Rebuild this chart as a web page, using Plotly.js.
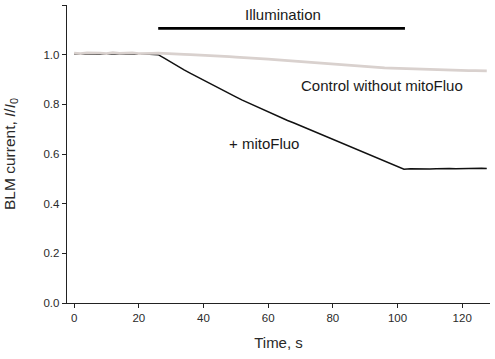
<!DOCTYPE html>
<html>
<head>
<meta charset="utf-8">
<script src="https://cdn.plot.ly/plotly-3.0.1.min.js"></script>
<style>html,body{margin:0;padding:0;background:#fff;}#chart{width:495px;height:359px;}</style>
</head>
<body>
<div id="chart"></div>
<script>
// Time axis (s)
var timeMito = [0,2,4,6,8,10,12,14,16,18,20,22,24,26,28,30,32,34,36,38,40,42,44,46,48,50,52,54,56,58,60,62,64,66,68,70,72,74,76,78,80,82,84,86,88,90,92,94,96,98,100,102,104,106,108,110,112,114,116,118,120,122,124,126,127.6];
// + mitoFluo, I/I0
var currentMito = [1.003,1.002,1.004,1.003,1.002,1.004,1.003,1.002,1.004,1.003,1.002,1.003,1.002,1.000,0.985,0.969,0.955,0.939,0.925,0.911,0.897,0.883,0.869,0.856,0.843,0.830,0.817,0.805,0.793,0.781,0.769,0.758,0.746,0.735,0.725,0.714,0.703,0.692,0.681,0.670,0.659,0.648,0.637,0.626,0.615,0.604,0.593,0.582,0.571,0.560,0.549,0.539,0.541,0.540,0.541,0.540,0.541,0.540,0.542,0.541,0.542,0.541,0.542,0.543,0.542];
var timeControl = timeMito;
// Control without mitoFluo, I/I0
var currentControl = [1.006,1.004,1.007,1.005,1.006,1.004,1.008,1.005,1.006,1.007,1.004,1.006,1.005,1.006,1.004,1.003,1.003,1.001,1.000,0.999,0.997,0.996,0.994,0.993,0.992,0.990,0.989,0.987,0.986,0.984,0.982,0.980,0.978,0.976,0.974,0.971,0.969,0.967,0.965,0.963,0.961,0.959,0.957,0.955,0.953,0.952,0.950,0.949,0.947,0.946,0.945,0.944,0.943,0.942,0.941,0.940,0.939,0.939,0.938,0.937,0.937,0.936,0.936,0.935,0.935];
// Illumination period
var illumTime = [26, 102.3];
var illumLevel = [1.106, 1.106];
var yTicks = [0, 0.2, 0.4, 0.6, 0.8, 1.0, 1.2];
var yTickText = ['0.0','0.2','0.4','0.6','0.8','1.0','1.2'];
var xTicks = [0, 20, 40, 60, 80, 100, 120];

var traces = [
  {x: timeMito, y: currentMito, mode: 'lines', line: {color: '#111', width: 1.5}, hoverinfo: 'skip'},
  {x: timeControl, y: currentControl, mode: 'lines', line: {color: '#d9d1ce', width: 2.8}, hoverinfo: 'skip'},
  {x: illumTime, y: illumLevel, mode: 'lines', line: {color: '#000', width: 2.8}, hoverinfo: 'skip'}
];

var fam = 'Liberation Sans, Arial, sans-serif';
var layout = {
  width: 495, height: 359,
  margin: {l: 67, r: 5, t: 5, b: 56},
  paper_bgcolor: '#fff', plot_bgcolor: '#fff',
  showlegend: false,
  font: {family: fam, size: 11, color: '#2a2a2a'},
  xaxis: {
    range: [-2.2, 128.6], tickvals: xTicks, ticks: 'outside', ticklen: 4, tickwidth: 1,
    tickcolor: '#222', showline: true, linecolor: '#222', linewidth: 1.3, showgrid: false, zeroline: false,
    tickfont: {family: fam, size: 11.5, color: '#2a2a2a'},
    title: {text: 'Time, s', font: {family: fam, size: 15, color: '#2a2a2a'}, standoff: 14}
  },
  yaxis: {
    range: [0, 1.2], tickvals: yTicks, ticktext: yTickText, ticks: 'outside', ticklen: 4, tickwidth: 1,
    tickcolor: '#222', showline: true, linecolor: '#222', linewidth: 1.3, showgrid: false, zeroline: false,
    tickfont: {family: fam, size: 11.5, color: '#2a2a2a'},
    title: {text: 'BLM current, <i>I</i>/<i>I</i><sub>0</sub>', font: {family: fam, size: 15.5, color: '#2a2a2a'}, standoff: 24}
  },
  annotations: [
    {x: 64.6, y: 1.16, xref: 'x', yref: 'y', text: 'Illumination', showarrow: false, font: {family: fam, size: 15, color: '#1a1a1a'}},
    {x: 95.3, y: 0.877, xref: 'x', yref: 'y', text: 'Control without mitoFluo', showarrow: false, font: {family: fam, size: 15, color: '#1a1a1a'}},
    {x: 58.7, y: 0.644, xref: 'x', yref: 'y', text: '+ mitoFluo', showarrow: false, font: {family: fam, size: 15, color: '#1a1a1a'}}
  ]
};
Plotly.newPlot('chart', traces, layout, {staticPlot: true, displayModeBar: false});
</script>
</body>
</html>
